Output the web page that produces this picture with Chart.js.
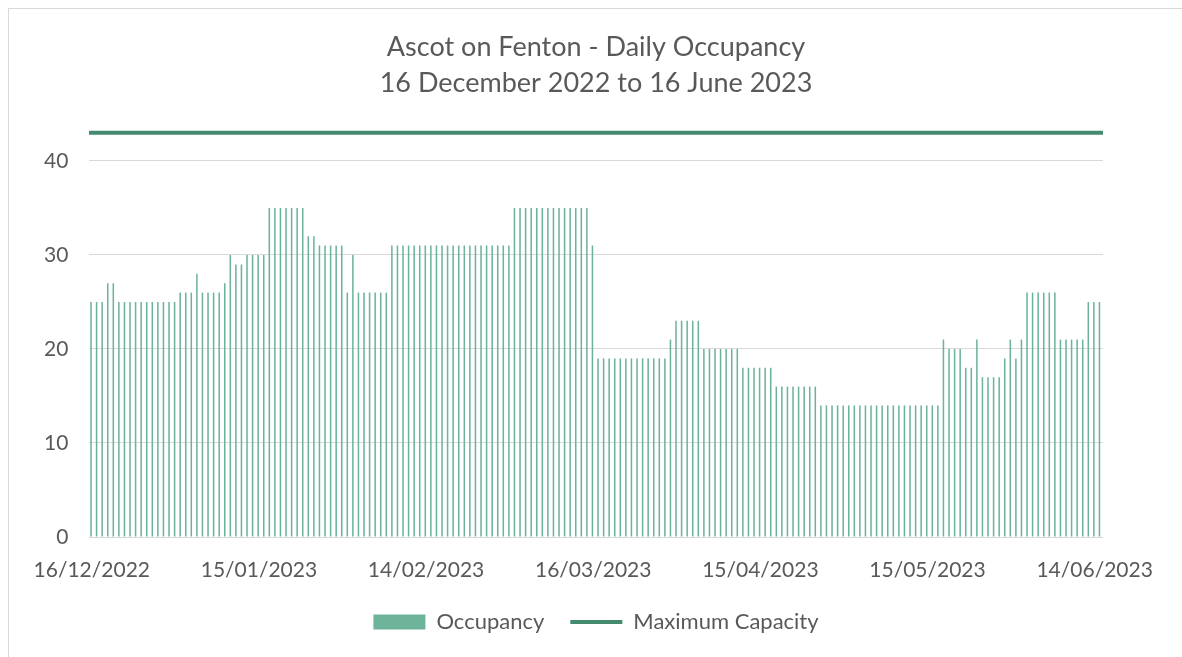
<!DOCTYPE html>
<html lang="en">
<head>
<meta charset="UTF-8">
<title>Ascot on Fenton - Daily Occupancy</title>
<script src="https://cdn.jsdelivr.net/npm/chart.js"></script>
<style>
  body { margin: 0; background: #fff; font-family: Lato, Arial; }
  .frame { position: absolute; left: 8px; top: 8px; width: 1200px; height: 700px; border: 1px solid #d9d9d9; }
  .wrap { position: absolute; left: 0; top: 0; width: 1182px; height: 657px; }
</style>
</head>
<body>
<div class="frame"></div>
<div class="wrap"><canvas id="chart"></canvas></div>

<script>
// daily occupancy, 16/12/2022 .. 15/06/2023
const occupancy = [
  25, 25, 25, 27, 27, 25, 25, 25, 25, 25, 25, 25, 25, 25, 25, 25,
  26, 26, 26, 28, 26, 26, 26, 26, 27, 30, 29, 29, 30, 30, 30, 30,
  35, 35, 35, 35, 35, 35, 35, 32, 32, 31, 31, 31, 31, 31, 26, 30,
  26, 26, 26, 26, 26, 26, 31, 31, 31, 31, 31, 31, 31, 31, 31, 31,
  31, 31, 31, 31, 31, 31, 31, 31, 31, 31, 31, 31, 35, 35, 35, 35,
  35, 35, 35, 35, 35, 35, 35, 35, 35, 35, 31, 19, 19, 19, 19, 19,
  19, 19, 19, 19, 19, 19, 19, 19, 21, 23, 23, 23, 23, 23, 20, 20,
  20, 20, 20, 20, 20, 18, 18, 18, 18, 18, 18, 16, 16, 16, 16, 16,
  16, 16, 16, 14, 14, 14, 14, 14, 14, 14, 14, 14, 14, 14, 14, 14,
  14, 14, 14, 14, 14, 14, 14, 14, 14, 21, 20, 20, 20, 18, 18, 21,
  17, 17, 17, 17, 19, 21, 19, 21, 26, 26, 26, 26, 26, 26, 21, 21,
  21, 21, 21, 25, 25, 25
];

// maximum capacity line, drawn edge to edge
const capacity = [43, 43];

// labels shown under the x axis
const tickLabels = ['16/12/2022', '15/01/2023', '14/02/2023', '16/03/2023', '15/04/2023', '15/05/2023', '14/06/2023'];

const yTicks = [0, 10, 20, 30, 40];

// one category per day
const days = [];
for (let i = 0; i < occupancy.length; i++) {
  const d = new Date(2022, 11, 16 + i);
  const dd = String(d.getDate()).padStart(2, '0');
  const mm = String(d.getMonth() + 1).padStart(2, '0');
  days.push(dd + '/' + mm + '/' + d.getFullYear());
}

const textColor = '#595959';

new Chart(document.getElementById('chart'), {
  data: {
    labels: days,
    datasets: [
      {
        type: 'bar',
        label: 'Occupancy',
        data: occupancy,
        backgroundColor: '#6db39a',
        borderWidth: 0,
        barPercentage: 1,
        categoryPercentage: 0.55,
        pointStyle: 'rect'
      },
      {
        type: 'line',
        label: 'Maximum Capacity',
        data: capacity,
        xAxisID: 'x2',
        borderColor: '#438a6e',
        backgroundColor: '#438a6e',
        borderWidth: 4,
        pointRadius: 0,
        pointStyle: 'line'
      }
    ]
  },
  options: {
    responsive: true,
    maintainAspectRatio: false,
    animation: false,
    // left padding holds the y labels, so title and legend centre like the original
    layout: { padding: { left: 89, right: 79, top: 0, bottom: 14 } },
    plugins: {
      title: {
        display: true,
        text: ['Ascot on Fenton - Daily Occupancy', '16 December 2022 to 16 June 2023'],
        color: textColor,
        font: { family: 'Lato', size: 27, weight: 'normal', lineHeight: 1.333 },
        padding: { top: 29, bottom: 13 }
      },
      legend: {
        position: 'bottom',
        labels: {
          usePointStyle: true,
          pointStyleWidth: 52,
          boxHeight: 15,
          color: textColor,
          font: { family: 'Lato', size: 22 },
          padding: 26
        }
      },
      tooltip: { enabled: false }
    },
    scales: {
      x: {
        offset: true,
        grid: { display: false, drawTicks: false },
        border: { display: false },
        afterFit: (s) => { s.height = 48; },
        ticks: {
          autoSkip: false,
          maxRotation: 0,
          color: textColor,
          font: { family: 'Lato', size: 21 },
          padding: 21,
          callback: (v, i) => tickLabels.includes(days[i]) ? days[i] : ''
        }
      },
      x2: {
        type: 'category',
        labels: ['start', 'end'],
        offset: false,
        display: false
      },
      y: {
        min: 0,
        max: 45,
        // zero-width axis; mirrored labels pushed back out to the left
        afterFit: (s) => { s.width = 0; },
        grid: { color: '#d9d9d9', lineWidth: 1, drawTicks: false },
        border: { display: false },
        afterBuildTicks: (s) => { s.ticks = yTicks.map(v => ({ value: v })); },
        ticks: {
          mirror: true,
          crossAlign: 'far',
          color: textColor,
          font: { family: 'Lato', size: 21 },
          padding: -45
        }
      }
    }
  }
});
</script>
</body>
</html>
